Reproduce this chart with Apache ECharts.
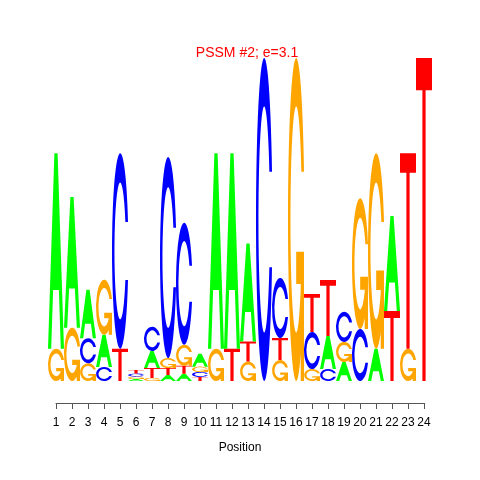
<!DOCTYPE html>
<html>
<head>
<meta charset="utf-8">
<script src="https://cdn.jsdelivr.net/npm/echarts@6/dist/echarts.min.js"></script>
<style>html,body{margin:0;padding:0;background:#fff}#c{width:480px;height:480px}</style>
</head>
<body>
<div id="c"></div>
<script>
// Sequence logo data: information (bits) per letter at each position 1..24
var positions = [1,2,3,4,5,6,7,8,9,10,11,12,13,14,15,16,17,18,19,20,21,22,23,24];
var letters = ['A','C','G','T'];
var heightA = [1.21,0.81,0.30,0.20,0,0.012,0.105,0.037,0.045,0.08,1.21,1.21,0.607,0,0,0,0,0.204,0.118,0,0.20,0.588,0,0];
var heightC = [0,0,0.155,0.087,1.21,0.019,0.15,1.245,0.755,0.031,0,0,0,2.0,0.372,0,0.23,0.074,0.186,0.322,0,0,0,0];
var heightG = [0.20,0.33,0.11,0.34,0,0.015,0.019,0.062,0.13,0.033,0.20,0,0.12,0,0.13,2.0,0.074,0,0.124,0.81,1.21,0,0.20,0];
var heightT = [0,0,0,0,0.20,0.022,0.062,0.043,0.05,0.025,0,0.20,0.125,0,0.136,0,0.235,0.347,0,0,0,0.433,1.21,2.0];
var tickLabels = positions.map(String);
var titleText = 'PSSM #2; e=3.1';
var xName = 'Position';

var COLORS = ['#00FF00','#0000FF','#FFA500','#FF0000'];
var PATHS = [
  'M0 100 L40 0 L60 0 L100 100 L80 100 L68 70 L32 70 L20 100 Z M36 60 L50 25 L64 60 Z',
  'M97.8 35.2 A50 50 0 1 0 97.8 64.8 L81.7 64.8 A35 35 0 1 1 81.7 35.2 Z',
  'M97.8 35.2 A50 50 0 1 0 97.8 64.8 L81.7 64.8 A35 35 0 1 1 81.7 35.2 Z M97.8 60 L50 60 L50 70 L77.8 70 L77.8 100 L97.8 100 Z',
  'M0 0 L100 0 L100 10 L60 10 L60 100 L40 100 L40 10 L0 10 Z'
];

var heights = [heightA, heightC, heightG, heightT];
var stackData = [];
positions.forEach(function (p, i) {
  var items = [];
  for (var k = 0; k < 4; k++) if (heights[k][i] > 0) items.push([k, heights[k][i]]);
  items.sort(function (a, b) { return a[1] - b[1]; });
  var base = 0;
  items.forEach(function (it) {
    stackData.push([p, base, base + it[1], it[0]]);
    base += it[1];
  });
});

var chart = echarts.init(document.getElementById('c'), null, {renderer: 'canvas'});
var FONT = "'Liberation Sans', Arial, Helvetica, sans-serif";
chart.setOption({
  animation: false,
  backgroundColor: '#ffffff',
  grid: [
    {left: 48, width: 384, top: 58, height: 323},
    {left: 56, width: 368, top: 58, bottom: 77}
  ],
  xAxis: [
    {gridIndex: 0, type: 'value', min: 0.5, max: 24.5, show: false},
    {gridIndex: 1, type: 'value', min: 1, max: 24, interval: 1,
     axisLine: {show: true, onZero: false, lineStyle: {color: '#555', width: 1}},
     axisTick: {show: true, length: 6, inside: false, lineStyle: {color: '#555'}},
     axisLabel: {show: true, margin: 14, fontSize: 12, color: '#000', fontFamily: FONT,
       formatter: function (v) { return tickLabels[v - 1] || ''; }},
     splitLine: {show: false},
     name: xName, nameLocation: 'middle', nameGap: 39,
     nameTextStyle: {fontSize: 12, color: '#000', fontFamily: FONT}}
  ],
  yAxis: [
    {gridIndex: 0, type: 'value', min: 0, max: 2, show: false},
    {gridIndex: 1, type: 'value', min: 0, max: 1, show: false}
  ],
  series: [{
    type: 'custom',
    xAxisIndex: 0, yAxisIndex: 0,
    clip: false,
    data: stackData,
    renderItem: function (params, api) {
      var pos = api.value(0), y0 = api.value(1), y1 = api.value(2), li = api.value(3);
      var p0 = api.coord([pos - 0.5, y1]);
      var p1 = api.coord([pos + 0.5, y0]);
      return {
        type: 'path',
        shape: {pathData: PATHS[li], x: p0[0], y: p0[1], width: p1[0] - p0[0], height: Math.max(p1[1] - p0[1], 0.5), layout: 'cover'},
        style: {fill: COLORS[li], stroke: null}
      };
    }
  }],
  graphic: [{
    type: 'text', x: 247, y: 53,
    style: {text: titleText, fill: '#FF0000', font: '14px ' + FONT, textAlign: 'center', textVerticalAlign: 'middle'}
  }]
});
</script>
</body>
</html>
